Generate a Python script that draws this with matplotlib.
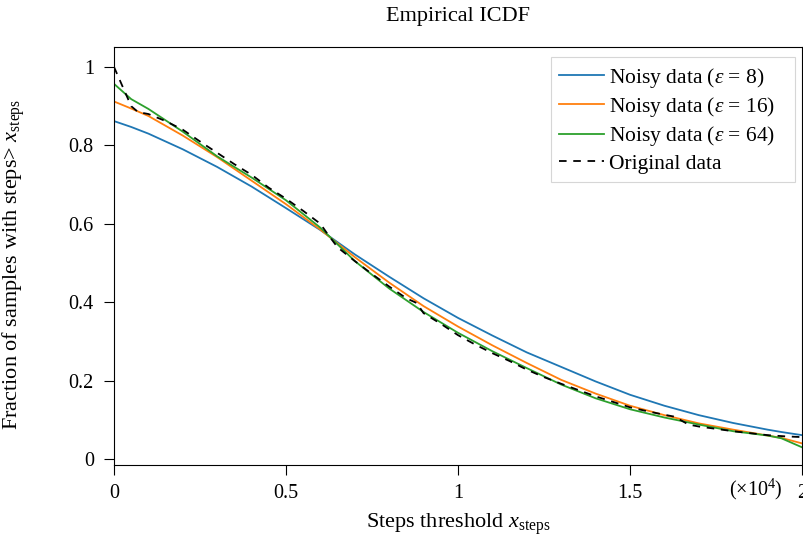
import matplotlib
matplotlib.use("Agg")
import matplotlib.pyplot as plt

plt.rcParams["font.family"] = ["Liberation Serif", "DejaVu Serif"]
plt.rcParams["mathtext.fontset"] = "custom"
plt.rcParams["mathtext.rm"] = "Liberation Serif"
plt.rcParams["mathtext.it"] = "Liberation Serif:italic"

# steps threshold, in units of 1e4
x_noisy = [0, 0.05, 0.1, 0.2, 0.3, 0.4, 0.5, 0.6, 0.7, 0.8, 0.9, 1.0,
           1.1, 1.2, 1.3, 1.4, 1.5, 1.6, 1.7, 1.8, 1.9, 1.94, 2.0]
eps8 = [0.862, 0.847, 0.83, 0.79, 0.745, 0.695, 0.64, 0.584, 0.522, 0.465,
        0.41, 0.36, 0.315, 0.272, 0.235, 0.198, 0.164, 0.136, 0.112, 0.092,
        0.075, 0.069, 0.061]
eps16 = [0.912, 0.894, 0.875, 0.825, 0.77, 0.71, 0.65, 0.585, 0.515, 0.45,
         0.39, 0.338, 0.29, 0.245, 0.202, 0.167, 0.136, 0.112, 0.091, 0.075,
         0.06, 0.054, 0.04]
eps64 = [0.957, 0.918, 0.893, 0.835, 0.772, 0.718, 0.66, 0.59, 0.505, 0.435,
         0.375, 0.322, 0.275, 0.232, 0.19, 0.155, 0.127, 0.106, 0.088, 0.071,
         0.06, 0.053, 0.03]

x_orig = [0, 0.02, 0.05, 0.07, 0.1, 0.15, 0.2, 0.25, 0.3, 0.35, 0.4, 0.45,
          0.5, 0.55, 0.6, 0.62, 0.65, 0.7, 0.75, 0.8, 0.85, 0.88, 0.9, 0.95,
          1.0, 1.05, 1.1, 1.15, 1.2, 1.25, 1.3, 1.35, 1.4, 1.45, 1.5, 1.55,
          1.6, 1.63, 1.67, 1.7, 1.75, 1.8, 1.85, 1.9, 1.95, 2.0]
orig = [1.0, 0.96, 0.9, 0.885, 0.88, 0.862, 0.84, 0.81, 0.781, 0.752, 0.725,
        0.692, 0.664, 0.633, 0.6, 0.575, 0.54, 0.505, 0.472, 0.44, 0.41,
        0.398, 0.372, 0.345, 0.316, 0.292, 0.27, 0.25, 0.228, 0.209, 0.192,
        0.176, 0.16, 0.146, 0.132, 0.122, 0.113, 0.108, 0.088, 0.083, 0.077,
        0.071, 0.066, 0.061, 0.058, 0.056]

fig = plt.figure(figsize=(8.04, 5.4), dpi=100)
ax = fig.add_axes([0.1418, 0.139, 0.8557, 0.774])

pad = "   "  # pgfplots leaves extra room right of legend text
ax.plot(x_noisy, eps8, color="#1f77b4", lw=1.3, label=r"Noisy data ($\varepsilon$ = 8)" + pad)
ax.plot(x_noisy, eps16, color="#ff7f0e", lw=1.3, label=r"Noisy data ($\varepsilon$ = 16)" + pad)
ax.plot(x_noisy, eps64, color="#2ca02c", lw=1.3, label=r"Noisy data ($\varepsilon$ = 64)" + pad)
ax.plot(x_orig, orig, color="black", lw=1.3, ls=(0, (4.2, 3.7)), label="Original data")

ax.set_xlim(0, 2)
ax.set_ylim(-0.015, 1.051)
ax.set_xticks([0, 0.5, 1, 1.5, 2])
ax.set_xticklabels(["0", "0.5", "1", "1.5", "2"])
ax.set_yticks([0, 0.2, 0.4, 0.6, 0.8, 1])
ax.set_yticklabels(["0", "0.2", "0.4", "0.6", "0.8", "1"])
ax.tick_params(direction="out", length=7.5, width=0.8, labelsize=14.5)
ax.tick_params(axis="x", pad=6)
ax.tick_params(axis="y", pad=7)
for s in ax.spines.values():
    s.set_linewidth(0.8)

ax.text(1.866, -0.045, r"$(\times10^4)$", ha="center", va="top", fontsize=14.5,
        transform=ax.transData)

ax.set_xlabel(r"Steps threshold $x_{\rm steps}$", fontsize=16, labelpad=6)
ax.set_ylabel(r"Fraction of samples with steps> $x_{\rm steps}$", fontsize=16)
ax.yaxis.set_label_coords(-0.127, 0.48)
ax.set_title("Empirical ICDF", fontsize=16, pad=19)

leg = ax.legend(loc="upper right", fontsize=15.5, frameon=True, fancybox=False,
                edgecolor="#cccccc", handlelength=2.1, borderpad=0.4,
                labelspacing=0.25, handletextpad=0.2, borderaxespad=0,
                bbox_to_anchor=(0.99, 0.976))
leg.get_frame().set_linewidth(0.8)

plt.savefig("out.png", dpi=100)
